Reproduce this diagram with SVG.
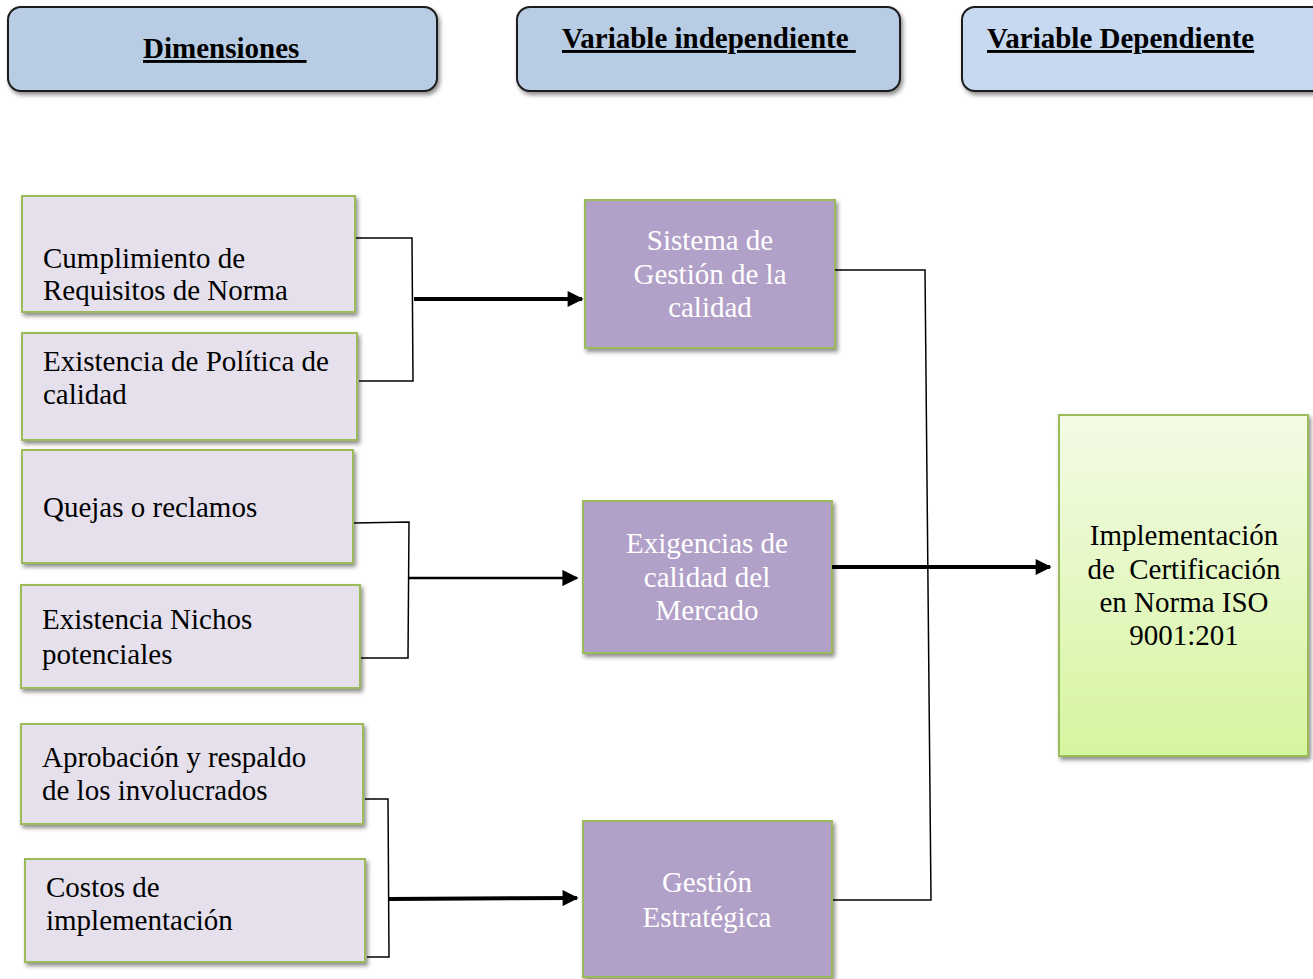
<svg xmlns="http://www.w3.org/2000/svg" width="1313" height="979" viewBox="0 0 1313 979">
<style>
.hdr{stroke:#1a1a1a;stroke-width:2}
.ht{font-family:"Liberation Serif",serif;font-size:29px;font-weight:bold;fill:#000;text-decoration:underline}
.dim{fill:#e5e0ec;stroke:#9bbb59;stroke-width:2}
.var{fill:#b1a0c7;stroke:#9bbb59;stroke-width:2}
.dep{fill:url(#gr);stroke:#9bbb59;stroke-width:2}
.t{font-family:"Liberation Serif",serif;font-size:29px;fill:#000}
.w{font-family:"Liberation Serif",serif;font-size:29px;fill:#fff;text-anchor:middle}
.c{font-family:"Liberation Serif",serif;font-size:29px;fill:#000;text-anchor:middle}
.ln{stroke:#000;stroke-width:1.5;fill:none}
.thick{stroke:#000;stroke-width:4;fill:none}
.mid{stroke:#000;stroke-width:2.5;fill:none}
</style>
<defs>
<filter id="sh" x="-10%" y="-10%" width="120%" height="130%">
<feDropShadow dx="2" dy="3" stdDeviation="2" flood-color="#000" flood-opacity="0.45"/>
</filter>
<linearGradient id="gr" x1="0" y1="0" x2="0" y2="1">
<stop offset="0" stop-color="#f3fbe6"/>
<stop offset="1" stop-color="#d6f5a0"/>
</linearGradient>
<marker id="ah" viewBox="0 0 10 10" refX="9" refY="5" markerWidth="5" markerHeight="5" markerUnits="userSpaceOnUse" orient="auto">
<path d="M0,0 L10,5 L0,10 z" fill="#000"/>
</marker>
<marker id="ahT" viewBox="0 0 10 10" refX="9" refY="5" markerWidth="4.5" markerHeight="4" orient="auto">
<path d="M0,0 L10,5 L0,10 z" fill="#000"/>
</marker>
<marker id="ahM" viewBox="0 0 10 10" refX="9" refY="5" markerWidth="7" markerHeight="6.5" orient="auto">
<path d="M0,0 L10,5 L0,10 z" fill="#000"/>
</marker>
</defs>

<g id="h-dimensiones">
<rect class="hdr" x="8" y="7" width="429" height="84" rx="13" fill="#b8cce4" filter="url(#sh)"/>
<text class="ht" x="143" y="58">Dimensiones&#160;</text>
</g>
<g id="h-independiente">
<rect class="hdr" x="517" y="7" width="383" height="84" rx="13" fill="#b8cce4" filter="url(#sh)"/>
<text class="ht" x="562" y="48">Variable independiente&#160;</text>
</g>
<g id="h-dependiente">
<rect class="hdr" x="962" y="7" width="370" height="84" rx="13" fill="#c6d9f1" filter="url(#sh)"/>
<text class="ht" x="987" y="48">Variable Dependiente</text>
</g>

<g id="d1">
<rect class="dim" x="22" y="196" width="333" height="116" filter="url(#sh)"/>
<text class="t" x="43" y="268">Cumplimiento de</text>
<text class="t" x="43" y="300">Requisitos de Norma</text>
</g>
<g id="d2">
<rect class="dim" x="22" y="333" width="335" height="107" filter="url(#sh)"/>
<text class="t" x="43" y="371">Existencia de Política de</text>
<text class="t" x="43" y="404">calidad</text>
</g>
<g id="d3">
<rect class="dim" x="22" y="450" width="331" height="113" filter="url(#sh)"/>
<text class="t" x="43" y="517">Quejas o reclamos</text>
</g>
<g id="d4">
<rect class="dim" x="21" y="585" width="339" height="103" filter="url(#sh)"/>
<text class="t" x="42" y="629">Existencia Nichos</text>
<text class="t" x="42" y="664">potenciales</text>
</g>
<g id="d5">
<rect class="dim" x="21" y="724" width="342" height="100" filter="url(#sh)"/>
<text class="t" x="42" y="767">Aprobación y respaldo</text>
<text class="t" x="42" y="800">de los involucrados</text>
</g>
<g id="d6">
<rect class="dim" x="25" y="859" width="340" height="103" filter="url(#sh)"/>
<text class="t" x="46" y="897">Costos de</text>
<text class="t" x="46" y="930">implementación</text>
</g>

<g id="v1">
<rect class="var" x="585" y="200" width="250" height="148" filter="url(#sh)"/>
<text class="w" x="710" y="250">Sistema de</text>
<text class="w" x="710" y="284">Gestión de la</text>
<text class="w" x="710" y="317">calidad</text>
</g>
<g id="v2">
<rect class="var" x="583" y="501" width="249" height="152" filter="url(#sh)"/>
<text class="w" x="707" y="553">Exigencias de</text>
<text class="w" x="707" y="587">calidad del</text>
<text class="w" x="707" y="620">Mercado</text>
</g>
<g id="v3">
<rect class="var" x="583" y="821" width="249" height="156" filter="url(#sh)"/>
<text class="w" x="707" y="892">Gestión</text>
<text class="w" x="707" y="927">Estratégica</text>
</g>

<g id="dep">
<rect class="dep" x="1059" y="415" width="249" height="341" filter="url(#sh)"/>
<text class="c" x="1184" y="545">Implementación</text>
<text class="c" x="1184" y="579" xml:space="preserve">de  Certificación</text>
<text class="c" x="1184" y="612">en Norma ISO</text>
<text class="c" x="1184" y="645">9001:201</text>
</g>

<g id="connectors">
<polyline class="ln" points="356,238 412,238 413,381 359,381"/>
<line class="thick" x1="414" y1="299" x2="582" y2="299" marker-end="url(#ahT)"/>
<polyline class="ln" points="354,523 409,522 408,658 361,658"/>
<line class="mid" x1="408" y1="578" x2="577" y2="578" marker-end="url(#ahM)"/>
<polyline class="ln" points="365,799 388,799 389,957 367,957"/>
<line class="thick" x1="388" y1="899" x2="577" y2="898" marker-end="url(#ahT)"/>
<polyline class="ln" points="835,270 925,270 931,900 833,900"/>
<line class="thick" x1="832" y1="567" x2="1050" y2="567" marker-end="url(#ahT)"/>
</g>
</svg>
